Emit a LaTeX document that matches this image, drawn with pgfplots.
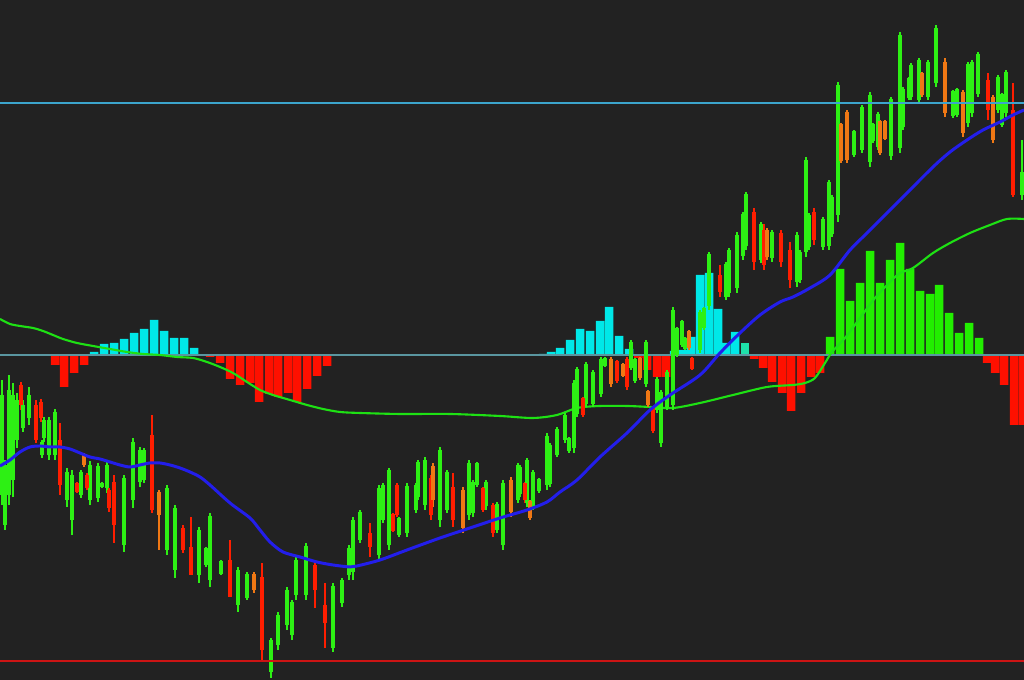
\documentclass[border=0pt]{standalone}
\usepackage{pgfplots}
\usepackage{pgfplotstable}
\pgfplotsset{compat=1.18}
\definecolor{bg}{RGB}{34,34,34}
\definecolor{hcyan}{RGB}{0,232,232}
\definecolor{hred}{RGB}{255,16,0}
\definecolor{hgreen}{RGB}{34,238,0}
\definecolor{hteal}{RGB}{30,225,170}
\definecolor{cgreen}{RGB}{45,240,20}
\definecolor{cred}{RGB}{255,30,0}
\definecolor{corange}{RGB}{240,120,20}
\definecolor{mablue}{RGB}{35,30,235}
\definecolor{sigg}{RGB}{30,225,20}
\definecolor{lineblue}{RGB}{60,165,205}
\definecolor{linered}{RGB}{205,20,20}
\definecolor{basec}{RGB}{90,150,160}

% histogram (height above zero line, pixels)
\pgfplotstableread{
x y
94 3
104 11
114 12
124 16
134 22
144 26
154 35
164 24
174 17
184 17
194 7
543 1
551 3
560 7
570 15
580 26
590 24
600 34
609 48
619 19
629 6
674 4
683 5
691 18
700 80
709 82
718 46
726 12
735 23
}\histC
\pgfplotstableread{
x y
745 12
}\histT
\pgfplotstableread{
x y
55 -10
64 -32
74 -18
84 -10
210 -2
220 -8
230 -24
240 -30
250 -28
259 -47
269 -39
278 -42
288 -38
297 -47
307 -34
317 -21
327 -11
638 -3
647 -15
657 -22
666 -22
754 -4
763 -13
772 -27
782 -38
791 -56
801 -38
811 -22
820 -18
987 -8
995 -18
1004 -30
1014 -70
1023 -70
}\histR
\pgfplotstableread{
x y
830 18
840 86
850 54
860 72
870 104
880 72
890 95
900 112
910 86
920 64
930 61
939 70
949 42
959 22
969 32
979 17
}\histG

% candles: x, high, low, body top, body bottom (pixel rows, top = 0)
\pgfplotstableread{
x h l bt bb
2 380 505 395 495
5 460 530 465 525
9 375 505 390 495
13 383 497 395 480
17 393 448 400 440
23 400 432 405 428
29 387 425 395 418
42 440 458 442 455
44 417 442 420 438
49 417 460 420 455
55 409 460 412 455
67 468 507 472 500
72 470 535 475 520
81 470 498 472 495
90 461 505 465 500
98 463 502 466 498
102 482 488 483 487
107 462 493 465 488
124 475 552 478 545
133 438 508 442 500
140 447 487 450 482
144 448 483 450 480
167 485 555 488 550
175 505 578 508 570
199 527 583 530 575
206 547 567 548 565
210 513 587 516 580
221 560 575 561 574
238 567 612 570 605
247 572 600 574 598
271 638 678 640 672
278 612 650 615 645
287 587 630 590 625
292 600 640 602 635
296 557 600 560 595
306 543 600 546 595
333 583 652 586 648
342 578 607 580 603
349 545 580 548 575
353 517 580 520 572
360 510 543 512 540
379 485 560 488 555
383 483 523 485 520
389 468 550 470 545
399 517 537 518 535
407 483 537 486 533
416 483 513 485 510
418 460 500 462 497
425 457 510 460 505
440 447 527 450 520
447 470 513 472 510
469 460 520 463 515
473 480 517 482 513
477 462 487 463 485
486 480 510 482 506
497 502 533 504 530
503 480 550 483 545
518 463 503 465 500
520 465 497 467 494
527 458 507 460 503
533 470 510 472 507
539 478 493 479 491
547 433 490 436 485
550 443 487 445 484
557 427 457 429 455
565 413 443 415 440
569 437 453 438 451
574 380 453 383 448
577 367 417 369 414
586 362 407 364 404
593 370 407 372 404
601 357 397 359 394
605 357 367 358 366
631 340 370 342 368
635 358 383 359 381
646 340 387 342 384
657 377 413 379 410
661 390 447 392 443
667 370 410 372 407
673 307 410 310 405
677 327 357 328 355
682 320 347 321 345
685 337 350 338 349
700 310 353 312 350
704 307 330 308 328
709 252 310 254 306
726 262 300 264 297
729 248 297 250 293
737 232 293 235 288
743 212 260 214 256
746 192 250 194 246
761 222 263 224 260
772 230 262 232 258
797 232 287 235 282
800 250 283 252 280
806 157 257 160 252
809 213 250 215 247
823 217 250 219 247
829 180 250 182 246
832 195 237 197 234
838 82 222 85 215
854 130 157 131 155
862 105 153 107 150
870 92 167 95 162
873 123 143 124 141
878 112 150 114 147
891 97 160 99 156
900 32 153 35 148
903 87 130 89 127
909 77 100 78 98
911 63 100 65 97
919 58 103 60 100
928 60 100 62 97
936 25 87 28 83
953 90 118 91 116
957 88 117 89 115
968 62 127 64 123
972 60 117 62 113
978 52 97 54 94
998 75 113 77 110
1002 93 127 94 125
1006 70 117 72 113
1022 140 200 172 195
}\candG
\pgfplotstableread{
x h l bt bb
21 382 410 385 405
36 400 443 405 440
41 399 422 402 418
60 423 495 440 485
77 482 493 483 492
87 473 490 475 488
109 488 512 490 508
114 475 543 482 525
152 415 513 435 510
183 525 553 528 550
191 517 575 547 575
230 540 597 560 597
262 563 662 577 650
315 563 608 565 590
325 583 648 605 623
370 523 557 533 547
393 513 532 514 531
397 483 517 485 515
431 475 520 478 515
453 473 527 487 520
483 487 512 488 510
493 503 537 505 533
525 482 503 483 500
583 397 417 398 415
617 360 383 361 381
627 357 390 359 387
653 407 433 408 431
692 357 370 358 369
720 265 297 275 292
754 208 270 212 262
764 224 270 230 265
781 230 267 233 262
790 242 288 250 280
814 208 245 212 240
988 73 120 80 110
1013 83 197 110 195
}\candR
\pgfplotstableread{
x h l bt bb
84 453 467 455 465
159 490 550 492 515
254 572 593 574 590
433 463 507 466 500
463 487 533 490 528
511 477 517 480 512
530 500 520 501 518
611 357 387 359 384
623 363 377 364 376
640 357 380 358 378
648 390 407 391 405
689 330 350 331 348
767 228 260 230 257
841 123 163 124 161
847 110 163 112 160
880 120 155 121 153
885 120 140 121 139
922 72 97 73 95
945 58 117 62 113
963 90 137 92 133
993 95 143 97 140
}\candO

% moving averages (pixel rows)
\pgfplotstableread{
x py
0 466
10 460
20 452
30 447
40 446
50 447
60 447
70 449
80 453
90 457
100 459
110 462
120 465
130 467
140 465
150 463
160 463
170 465
180 468
190 472
200 477
210 485
230 503
250 518
260 530
270 542
283 552
300 557
317 562
333 565
350 567
357 566
380 560
407 550
440 538
473 527
500 518
527 510
547 502
560 492
577 480
600 457
627 433
650 410
670 395
700 375
720 353
740 333
760 315
780 302
793 297
810 288
830 275
850 250
867 233
900 200
933 167
950 152
967 140
983 130
1000 122
1013 115
1024 110
}\maBlue
\pgfplotstableread{
x py
0 319
10 324
20 326
33 328
43 331
53 335
63 339
77 343
93 346
110 349
127 352
143 354
160 355
177 357
193 358
207 362
220 367
233 373
247 382
260 390
273 395
290 400
307 405
323 409
340 412
360 413
400 414
450 414
500 416
533 418
557 415
577 408
600 406
627 406
650 407
673 408
700 403
733 395
767 387
793 385
805 383
815 378
825 363
832 352
845 338
860 318
875 298
890 282
900 273
913 268
933 253
950 243
970 233
990 225
1007 219
1024 219
}\maGreen

\pgfplotsset{
  wick/.style={draw=none, mark=none, error bars/.cd, y dir=both, y explicit, error mark=none,
    error bar style={draw=#1, solid, line width=0.5pt}},
  body/.style={draw=none, mark=none, error bars/.cd, y dir=both, y explicit, error mark=none,
    error bar style={draw=#1, solid, line width=0.9pt}},
}

\begin{document}
\begin{tikzpicture}
\begin{axis}[
  scale only axis, width=10.24cm, height=6.8cm,
  xmin=0, xmax=1024, ymin=-325, ymax=355,
  axis background/.style={fill=bg},
  axis line style={draw=none},
  xtick=\empty, ytick=\empty,
  clip=true,
]
% histogram
\addplot[ybar, bar width=8.5, bar shift=0pt, fill=hcyan, draw=none] table[x=x,y=y] \histC;
\addplot[ybar, bar width=8.5, bar shift=0pt, fill=hteal, draw=none] table[x=x,y=y] \histT;
\addplot[ybar, bar width=8.5, bar shift=0pt, fill=hred, draw=none] table[x=x,y=y] \histR;
\addplot[ybar, bar width=8.5, bar shift=0pt, fill=hgreen, draw=none] table[x=x,y=y] \histG;
\addplot[draw=basec, line width=0.45pt] coordinates {(0,0) (1024,0)};
% signal line
\addplot[smooth, draw=sigg, line width=0.6pt] table[x=x, y expr=355-\thisrow{py}] \maGreen;
% candles: wicks
\addplot[wick=cgreen] table[x=x, y expr={355-(\thisrow{h}+\thisrow{l})/2}, y error expr={(\thisrow{l}-\thisrow{h})/2}] \candG;
\addplot[wick=cred] table[x=x, y expr={355-(\thisrow{h}+\thisrow{l})/2}, y error expr={(\thisrow{l}-\thisrow{h})/2}] \candR;
\addplot[wick=corange] table[x=x, y expr={355-(\thisrow{h}+\thisrow{l})/2}, y error expr={(\thisrow{l}-\thisrow{h})/2}] \candO;
% candles: bodies
\addplot[body=cgreen] table[x=x, y expr={355-(\thisrow{bt}+\thisrow{bb})/2}, y error expr={(\thisrow{bb}-\thisrow{bt})/2}] \candG;
\addplot[body=cred] table[x=x, y expr={355-(\thisrow{bt}+\thisrow{bb})/2}, y error expr={(\thisrow{bb}-\thisrow{bt})/2}] \candR;
\addplot[body=corange] table[x=x, y expr={355-(\thisrow{bt}+\thisrow{bb})/2}, y error expr={(\thisrow{bb}-\thisrow{bt})/2}] \candO;
% moving average
\addplot[smooth, draw=mablue, line width=0.85pt] table[x=x, y expr=355-\thisrow{py}] \maBlue;
% level lines
\addplot[draw=lineblue, line width=0.5pt] coordinates {(0,252) (1024,252)};
\addplot[draw=linered, line width=0.55pt] coordinates {(0,-306) (1024,-306)};
\end{axis}
\pgfresetboundingbox
\path[use as bounding box] (current axis.south west) rectangle (current axis.north east);
\end{tikzpicture}
\end{document}
